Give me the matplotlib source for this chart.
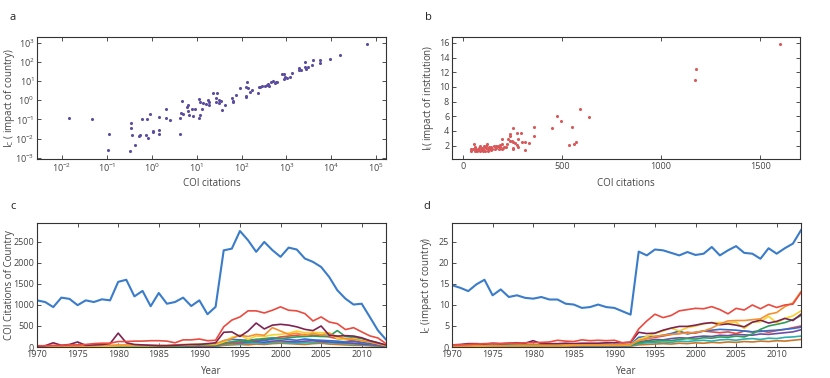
import numpy as np
import matplotlib
matplotlib.use("Agg")
import matplotlib.pyplot as plt
from matplotlib.ticker import LogLocator, LogFormatterMathtext, NullLocator

plt.rcParams["font.family"] = ["Open Sans", "DejaVu Sans"]
plt.rcParams["mathtext.fontset"] = "custom"
plt.rcParams["mathtext.rm"] = "Open Sans"
plt.rcParams["mathtext.it"] = "Open Sans"

# ---- panel a: log-log scatter (log10 values)
a_logx = [-1.85, -1.33, -0.96, -0.97, -0.47, -0.47, -0.44, -0.49, -0.38, -0.23,
          -0.27, -0.28, -0.10, -0.13, -0.09, -0.05, 0.03, 0.03, 0.16, 0.16,
          0.17, 0.31, 0.32, 0.41, 0.62, 0.62, 0.66, 0.67, 0.69, 0.81,
          0.81, 0.82, 0.89, 0.91, 0.78, 0.96, 1.05, 1.06, 1.07, 1.08,
          1.11, 1.14, 1.20, 1.25, 1.27, 1.28, 1.37, 1.43, 1.46, 1.50,
          1.43, 1.50, 1.54, 1.57, 1.62, 1.78, 1.80, 1.81, 1.88, 1.97,
          2.10, 2.10, 2.10, 2.13, 2.15, 2.19, 2.24, 2.36, 2.38, 2.40,
          2.45, 2.53, 2.56, 2.60, 2.62, 2.65, 2.70, 2.74, 2.77, 2.79,
          2.90, 2.94, 2.95, 2.97, 3.01, 3.09, 3.12, 3.28, 3.28, 3.33,
          3.42, 3.42, 3.44, 3.47, 3.57, 3.59, 3.74, 3.74, 3.96, 4.19, 4.80]
a_logy = [-0.90, -0.95, -1.78, -2.60, -1.19, -1.47, -1.82, -2.65, -2.32, -0.98,
          -1.82, -1.87, -0.98, -1.82, -1.96, -0.69, -1.68, -1.59, -1.57, -1.78,
          -0.86, -0.93, -0.48, -1.03, -1.78, -0.90, -0.65, -0.06, -0.69, -0.27,
          -0.55, -0.76, -0.48, -0.83, -0.37, -0.43, 0.06, -0.90, -0.77, -0.08,
          -0.43, -0.15, -0.17, 0.00, -0.24, -0.08, 0.37, 0.11, 0.36, -0.13,
          -0.10, 0.04, -0.03, -0.50, -0.24, 0.13, -0.08, -0.03, 0.30, 0.62,
          0.70, 0.23, 0.15, 0.95, 0.65, 0.43, 0.53, 0.36, 0.67, 0.70,
          0.72, 0.76, 0.81, 0.84, 0.76, 0.95, 1.03, 0.91, 0.97, 0.97,
          1.37, 1.37, 1.10, 1.19, 1.17, 1.23, 1.43, 1.57, 1.66, 1.57,
          1.99, 1.75, 1.63, 1.75, 1.83, 2.10, 2.10, 1.92, 2.13, 2.36, 2.93]

# ---- panel b: linear scatter
b_x = [1602, 1175, 1173, 593, 636, 473, 497, 452, 553, 359, 359, 253, 275, 293,
       236, 239, 276, 195, 315, 334, 297, 313, 537, 563, 573, 247, 236, 229,
       254, 263, 271, 276, 254, 251, 220, 207, 195, 186, 178, 169, 158, 144,
       132, 127, 122, 115, 110, 102, 93, 85, 81, 76, 68, 61, 54, 51, 42, 39,
       102, 112, 127, 144, 161, 180, 195, 149, 85, 71, 61, 136, 119, 105, 98,
       203, 217, 186, 169]
b_y = [15.8, 12.4, 10.9, 6.94, 5.85, 6.08, 5.35, 4.36, 4.54, 4.54, 3.36, 4.45,
       3.77, 3.77, 3.54, 3.36, 2.91, 2.91, 2.45, 2.32, 2.45, 1.36, 2.04, 2.27,
       2.45, 2.68, 2.68, 2.86, 2.50, 2.32, 2.04, 1.86, 1.73, 1.59, 2.18, 1.86,
       2.23, 1.86, 2.00, 1.68, 1.95, 1.77, 1.82, 1.55, 2.18, 1.95, 1.77, 1.59,
       1.45, 2.00, 1.64, 1.45, 1.55, 1.82, 2.22, 1.50, 1.32, 1.55, 1.32, 1.32,
       1.32, 1.41, 1.50, 1.59, 1.59, 1.55, 1.32, 1.32, 1.32, 1.50, 1.68, 1.95,
       1.73, 1.64, 1.86, 2.09, 1.95]

years = list(range(1970, 2014))

# ---- panel c: COI citations per country, 1970-2013
c_blue = [1110, 1070, 950, 1175, 1145, 995, 1110, 1070, 1135, 1110,
          1550, 1600, 1205, 1335, 970, 1285, 1030, 1070, 1175, 975,
          1110, 780, 955, 2300, 2340, 2760, 2540, 2265, 2500, 2305,
          2145, 2365, 2320, 2105, 2025, 1905, 1665, 1350, 1150, 1010,
          1030, 715, 395, 175]
c_red = [30, 30, 40, 40, 50, 50, 60, 80, 90, 90,
         130, 130, 140, 140, 150, 150, 140, 100, 170, 170,
         190, 150, 160, 480, 640, 715, 860, 860, 810, 875,
         955, 875, 860, 795, 620, 715, 595, 555, 415, 460,
         360, 265, 215, 80]
c_maroon = [20, 30, 100, 40, 60, 120, 40, 50, 60, 80,
            330, 100, 60, 50, 40, 30, 30, 40, 50, 60,
            60, 80, 100, 350, 360, 250, 380, 570, 430, 520,
            540, 520, 480, 420, 390, 500, 280, 260, 270, 260,
            220, 150, 100, 50]
c_orange = [10, 10, 10, 20, 20, 20, 30, 30, 40, 40,
            50, 50, 50, 40, 40, 40, 40, 50, 60, 60,
            70, 70, 80, 150, 200, 280, 250, 300, 280, 460,
            380, 300, 330, 280, 320, 290, 320, 250, 200, 180,
            150, 120, 80, 40]
c_yellow = [10, 10, 10, 10, 10, 20, 20, 20, 20, 20,
            30, 30, 30, 30, 30, 30, 30, 40, 40, 50,
            60, 60, 60, 120, 230, 280, 180, 260, 250, 290,
            300, 330, 380, 340, 350, 340, 340, 200, 180, 200,
            150, 120, 80, 30]
c_green = [10, 10, 10, 10, 10, 10, 10, 20, 20, 20,
           20, 20, 20, 20, 20, 20, 20, 20, 30, 30,
           40, 40, 50, 100, 120, 150, 130, 180, 200, 220,
           200, 220, 240, 250, 260, 250, 260, 390, 250, 230,
           200, 150, 100, 30]
c_ltblue = [10, 10, 10, 10, 10, 10, 20, 20, 20, 20,
            20, 20, 20, 30, 30, 30, 30, 30, 30, 40,
            40, 40, 50, 150, 180, 170, 160, 180, 150, 190,
            200, 180, 160, 190, 170, 160, 150, 140, 120, 130,
            110, 90, 60, 20]
c_red2 = [5, 5, 5, 10, 10, 10, 10, 10, 10, 10,
          15, 15, 15, 15, 20, 20, 20, 20, 25, 25,
          30, 30, 40, 80, 100, 120, 140, 160, 180, 200,
          240, 260, 280, 300, 280, 260, 240, 200, 180, 150,
          110, 80, 50, 20]
c_purple = [5, 5, 5, 5, 5, 10, 10, 10, 10, 10,
            10, 10, 10, 10, 10, 15, 15, 15, 15, 20,
            20, 20, 30, 90, 110, 100, 120, 130, 110, 140,
            150, 130, 120, 140, 150, 130, 120, 110, 100, 90,
            70, 60, 40, 15]
c_teal = [2, 2, 2, 3, 3, 3, 3, 4, 4, 4,
          5, 5, 5, 5, 5, 6, 6, 6, 7, 7,
          8, 8, 10, 60, 80, 70, 90, 100, 80, 110,
          120, 100, 90, 100, 110, 120, 100, 90, 80, 70,
          60, 40, 30, 10]
c_brown = [3, 3, 3, 3, 4, 4, 4, 4, 5, 5,
           6, 6, 6, 6, 7, 7, 7, 8, 8, 8,
           10, 10, 12, 40, 50, 60, 50, 70, 60, 80,
           90, 80, 70, 60, 80, 90, 70, 60, 50, 40,
           40, 30, 20, 8]

# ---- panel d: impact of country, 1970-2013
d_blue = [14.7, 14.1, 13.3, 14.9, 16.0, 12.3, 13.7, 11.9, 12.3, 11.7,
          11.5, 11.9, 11.3, 11.3, 10.3, 10.1, 9.3, 9.5, 10.1, 9.5,
          9.3, 8.5, 7.7, 22.7, 21.8, 23.2, 23.0, 22.4, 21.8, 22.6,
          21.9, 22.2, 23.8, 21.8, 23.0, 24.0, 22.4, 22.2, 21.0, 23.5,
          22.2, 23.5, 24.6, 27.8]
d_red = [0.5, 0.5, 0.6, 0.7, 0.8, 0.8, 0.8, 0.9, 0.9, 1.0,
         1.0, 1.1, 1.2, 1.6, 1.4, 1.3, 1.7, 1.5, 1.6, 1.5,
         1.6, 1.0, 1.2, 4.3, 6.2, 7.8, 7.0, 7.5, 8.6, 8.9,
         9.2, 9.1, 9.6, 8.9, 7.9, 9.2, 8.8, 10.0, 9.1, 10.1,
         9.4, 10.0, 10.2, 13.0]
d_orange = [0.2, 0.2, 0.2, 0.3, 0.3, 0.3, 0.3, 0.3, 0.4, 0.4,
            0.4, 0.4, 0.4, 0.4, 0.5, 0.5, 0.5, 0.5, 0.5, 0.5,
            0.5, 0.5, 0.6, 1.5, 2.0, 2.5, 2.8, 3.0, 3.2, 3.3,
            3.5, 3.8, 4.5, 5.5, 6.2, 6.3, 6.3, 6.5, 6.7, 7.8,
            8.2, 9.6, 10.5, 13.2]
d_yellow = [0.2, 0.2, 0.2, 0.2, 0.2, 0.3, 0.3, 0.3, 0.3, 0.3,
            0.3, 0.3, 0.3, 0.3, 0.3, 0.4, 0.4, 0.4, 0.4, 0.4,
            0.4, 0.4, 0.5, 1.8, 2.5, 3.2, 3.8, 4.5, 3.8, 4.6,
            5.0, 5.5, 5.8, 5.8, 5.7, 5.9, 4.4, 5.9, 6.0, 7.3,
            5.8, 6.8, 7.4, 8.6]
d_maroon = [0.5, 0.6, 0.8, 0.8, 0.7, 0.9, 0.8, 0.9, 1.0, 0.9,
            1.5, 0.8, 0.8, 0.8, 0.9, 0.8, 0.9, 0.9, 0.9, 1.0,
            1.0, 1.0, 1.1, 3.5, 3.2, 3.3, 4.0, 4.5, 4.9, 4.9,
            5.2, 5.6, 5.8, 5.3, 5.5, 5.2, 4.8, 5.9, 6.4, 5.7,
            6.1, 6.8, 6.3, 7.8]
d_green = [0.3, 0.3, 0.3, 0.3, 0.4, 0.4, 0.4, 0.4, 0.4, 0.5,
           0.5, 0.5, 0.5, 0.5, 0.5, 0.5, 0.6, 0.6, 0.6, 0.6,
           0.5, 0.5, 0.5, 1.0, 1.3, 1.4, 1.6, 1.5, 1.8, 2.0,
           1.9, 2.2, 2.1, 2.4, 2.3, 2.6, 2.4, 3.1, 4.2, 5.0,
           5.4, 5.8, 6.5, 7.5]
d_ltblue = [0.3, 0.3, 0.4, 0.4, 0.4, 0.4, 0.5, 0.5, 0.5, 0.5,
            0.5, 0.5, 0.6, 0.6, 0.6, 0.6, 0.6, 0.6, 0.6, 0.6,
            0.5, 0.5, 0.6, 2.3, 2.5, 2.5, 2.8, 3.2, 3.8, 3.1,
            3.5, 3.8, 4.0, 4.2, 4.1, 4.0, 3.8, 3.6, 3.7, 3.9,
            4.0, 4.2, 4.4, 4.7]
d_red2 = [0.2, 0.2, 0.2, 0.2, 0.2, 0.2, 0.3, 0.3, 0.3, 0.3,
          0.3, 0.3, 0.3, 0.3, 0.3, 0.3, 0.4, 0.4, 0.4, 0.4,
          0.4, 0.4, 0.5, 1.5, 2.0, 2.3, 2.6, 3.0, 3.2, 3.5,
          3.3, 3.8, 3.6, 3.4, 3.6, 3.2, 3.8, 3.6, 3.9, 3.5,
          3.9, 4.2, 4.6, 5.0]
d_purple = [0.1, 0.1, 0.1, 0.2, 0.2, 0.2, 0.2, 0.2, 0.2, 0.2,
            0.2, 0.2, 0.2, 0.2, 0.3, 0.3, 0.3, 0.3, 0.3, 0.3,
            0.3, 0.3, 0.4, 1.2, 1.5, 1.8, 1.7, 2.0, 2.2, 2.1,
            2.4, 2.6, 2.5, 2.8, 2.7, 3.0, 2.9, 2.8, 3.1, 3.0,
            3.2, 3.4, 3.6, 4.1]
d_teal = [0.1, 0.1, 0.1, 0.1, 0.1, 0.1, 0.1, 0.1, 0.2, 0.2,
          0.2, 0.2, 0.2, 0.2, 0.2, 0.2, 0.2, 0.2, 0.2, 0.2,
          0.2, 0.2, 0.3, 0.8, 1.0, 1.1, 1.2, 1.1, 1.4, 1.3,
          1.5, 1.6, 1.4, 1.7, 1.8, 1.6, 1.9, 2.0, 1.8, 2.1,
          2.0, 2.3, 2.4, 2.6]
d_brown = [0.1, 0.1, 0.1, 0.1, 0.1, 0.1, 0.1, 0.1, 0.1, 0.1,
           0.1, 0.1, 0.1, 0.1, 0.1, 0.1, 0.1, 0.1, 0.2, 0.2,
           0.2, 0.2, 0.2, 0.5, 0.6, 0.7, 0.8, 0.7, 0.9, 0.8,
           1.0, 0.9, 1.1, 1.0, 1.2, 1.1, 1.3, 1.2, 1.4, 1.3,
           1.5, 1.4, 1.6, 1.8]

BLUE = "#3a7cc9"
RED = "#ea4a3f"
MAROON = "#7d2352"
ORANGE = "#f39131"
YELLOW = "#f7d22b"
GREEN = "#2f9c5c"
LTBLUE = "#2f6fd0"
PURPLE = "#6b4fa3"
TEAL = "#2bb0b0"
BROWN = "#c9762a"

c_series = [(c_brown, BROWN), (c_teal, TEAL), (c_purple, PURPLE), (c_red2, RED),
            (c_ltblue, LTBLUE), (c_green, GREEN), (c_yellow, YELLOW),
            (c_orange, ORANGE), (c_maroon, MAROON), (c_red, RED), (c_blue, BLUE)]
d_series = [(d_brown, BROWN), (d_teal, TEAL), (d_purple, PURPLE), (d_red2, RED),
            (d_ltblue, LTBLUE), (d_green, GREEN), (d_yellow, YELLOW),
            (d_maroon, MAROON), (d_orange, ORANGE), (d_red, RED), (d_blue, BLUE)]

SPINE = "#333333"
TXT = "#444444"


def style(ax):
    for s in ax.spines.values():
        s.set_color(SPINE)
        s.set_linewidth(0.8)
    ax.tick_params(direction="in", top=True, right=True, length=3, width=0.6,
                   colors=SPINE, labelcolor=TXT, labelsize=6.5, pad=2)


fig = plt.figure(figsize=(8.3, 3.78), dpi=100)
ax_a = fig.add_axes([0.0446, 0.579, 0.4205, 0.323])
ax_b = fig.add_axes([0.5446, 0.579, 0.419, 0.323])
ax_c = fig.add_axes([0.0446, 0.082, 0.4205, 0.328])
ax_d = fig.add_axes([0.5446, 0.082, 0.4205, 0.328])

# a
ax_a.scatter(10 ** np.array(a_logx), 10 ** np.array(a_logy), s=5, color="#5b4ea0",
             linewidths=0)
ax_a.set_xscale("log")
ax_a.set_yscale("log")
ax_a.set_xlim(10 ** -2.56, 10 ** 5.22)
ax_a.set_ylim(10 ** -3.07, 10 ** 3.3)
ax_a.xaxis.set_major_locator(LogLocator(base=10, numticks=20))
ax_a.yaxis.set_major_locator(LogLocator(base=10, numticks=20))
ax_a.xaxis.set_minor_locator(NullLocator())
ax_a.yaxis.set_minor_locator(NullLocator())
ax_a.xaxis.set_major_formatter(LogFormatterMathtext())
ax_a.yaxis.set_major_formatter(LogFormatterMathtext())
ax_a.set_xlabel("COI citations", fontsize=7, color=TXT)
ax_a.set_ylabel(r"I$_\mathrm{C}$ ( impact of country)", fontsize=7, color=TXT)
style(ax_a)
ax_a.yaxis.set_label_coords(-0.058, 0.5)
ax_a.xaxis.set_label_coords(0.5, -0.155)

# b
ax_b.scatter(b_x, b_y, s=5, color="#d9585a", linewidths=0)
ax_b.set_xlim(-55, 1700)
ax_b.set_ylim(0.15, 16.8)
ax_b.set_xticks([0, 500, 1000, 1500])
ax_b.set_yticks([2, 4, 6, 8, 10, 12, 14, 16])
ax_b.set_xlabel("COI citations", fontsize=7, color=TXT)
ax_b.set_ylabel(r"I$_\mathrm{I}$( impact of institution)", fontsize=7, color=TXT)
style(ax_b)
ax_b.yaxis.set_label_coords(-0.046, 0.5)
ax_b.xaxis.set_label_coords(0.5, -0.155)

# c
for vals, col in c_series:
    lw = 1.5 if vals is c_blue else 1.2
    ax_c.plot(years, vals, color=col, lw=lw, solid_joinstyle="round")
ax_c.set_xlim(1970, 2013)
ax_c.set_ylim(0, 2950)
ax_c.set_xticks(range(1970, 2011, 5))
ax_c.set_yticks([0, 500, 1000, 1500, 2000, 2500])
ax_c.set_xlabel("Year", fontsize=7, color=TXT)
ax_c.set_ylabel("COI Citations of Country", fontsize=7, color=TXT)
style(ax_c)
ax_c.yaxis.set_label_coords(-0.063, 0.5)
ax_c.xaxis.set_label_coords(0.5, -0.15)

# d
for vals, col in d_series:
    lw = 1.5 if vals is d_blue else 1.2
    ax_d.plot(years, vals, color=col, lw=lw, solid_joinstyle="round")
ax_d.set_xlim(1970, 2013)
ax_d.set_ylim(0, 29.5)
ax_d.set_xticks(range(1970, 2011, 5))
ax_d.set_yticks([0, 5, 10, 15, 20, 25])
ax_d.set_xlabel("Year", fontsize=7, color=TXT)
ax_d.set_ylabel(r"I$_\mathrm{C}$ (impact of country)", fontsize=7, color=TXT)
style(ax_d)
ax_d.yaxis.set_label_coords(-0.052, 0.5)
ax_d.xaxis.set_label_coords(0.5, -0.15)

for lab, x, y in [("a", 0.012, 0.955), ("b", 0.512, 0.955),
                  ("c", 0.012, 0.455), ("d", 0.510, 0.455)]:
    fig.text(x, y, lab, fontsize=8, color="#222222", ha="left", va="center")

fig.savefig("out.png", dpi=100)
